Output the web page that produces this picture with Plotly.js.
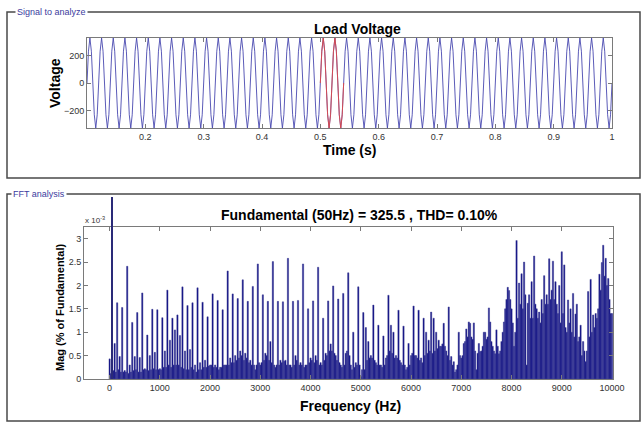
<!DOCTYPE html>
<html>
<head>
<meta charset="utf-8">
<script src="https://cdn.plot.ly/plotly-3.0.1.min.js"></script>
<style>html,body{margin:0;padding:0;background:#fff;}#chart{width:641px;height:423px;}</style>
</head>
<body>
<div id="chart"></div>
<script>
// ---------- data ----------
const signalTitle = "Load Voltage";
const fundamentalHz = 50;
const fundamentalAmp = 325.5;     // V peak
const thdPct = "0.10";
const tStart = 0.1, tEnd = 1.0;   // analysed signal window (s)
const fftWindow = [0.5, 0.54];    // red segment (2 cycles)
// one 50 Hz cycle of the load voltage, 8 samples (V)
const cycleShape = [0, 230, 325.5, 230, 0, -230, -325.5, -230];
const timeTicks = [0.2, 0.3, 0.4, 0.5, 0.6, 0.7, 0.8, 0.9, 1];
const voltTicks = [-200, 0, 200];

// FFT: bins every 25 Hz from 0 to 10000 Hz, magnitude in units of 1e-3 % of fundamental
const binStart = 0, binStep = 25;
const fundamentalPct = 100;   // fundamental bin (50 Hz) = 100 %
const harmonicMag = [
0.43,0.12,null,0.18, 0.76,0.15,1.63,0.20, 0.48,0.15,1.53,0.15, 0.18,0.15,2.41,0.12, 0.30,0.15,1.21,0.18,
0.48,0.20,1.42,0.15, 0.46,0.15,1.84,0.20, 0.22,0.20,0.94,0.18, 0.50,0.20,1.49,0.22, 0.57,0.20,1.48,0.20,
0.22,0.20,1.31,0.25, 0.60,0.25,1.90,0.30, 0.83,0.25,1.30,0.30, 1.05,0.30,1.37,0.30, 0.93,0.25,1.97,0.22,
0.60,0.20,1.57,0.20, 0.63,0.25,1.63,0.20, 0.30,0.15,1.95,0.20, 0.35,0.20,1.64,0.25, 0.40,0.25,1.33,0.28,
0.30,0.30,1.82,0.25, 0.30,0.25,1.68,0.20, 0.25,0.25,1.48,0.30, 0.30,0.30,2.31,0.30, 0.45,0.35,1.82,0.35,
0.50,0.40,1.72,0.45, 0.60,0.50,2.12,0.40, 0.55,0.45,1.66,0.35, 0.40,0.30,1.98,0.30, 0.20,0.30,2.46,0.35,
0.30,0.35,1.80,0.40, 0.55,0.50,1.66,0.40, 0.80,0.35,2.51,0.30, 0.25,0.30,1.66,0.30, 0.40,0.35,1.65,0.38,
0.40,0.30,2.58,0.30, 0.30,0.25,1.66,0.30, 0.50,0.40,1.68,0.30, 0.35,0.30,2.46,0.25, 0.30,0.30,1.50,0.35,
0.45,0.40,1.67,0.35, 0.50,0.40,2.39,0.30, 0.35,0.30,1.30,0.40, 0.55,0.50,1.67,0.60, 0.75,0.60,1.99,0.55,
0.50,0.40,1.71,0.35, 0.30,0.25,1.83,0.30, 0.55,0.60,2.27,0.50, 0.30,0.20,1.00,0.25, 0.35,0.30,1.97,0.30,
0.05,0.20,1.42,0.20, 1.10,0.40,0.80,0.45, 0.50,0.45,1.58,0.40, 0.35,0.30,1.15,0.30, 0.30,0.25,0.92,0.30,
0.45,0.50,1.79,0.60, 1.15,0.55,1.00,0.45, 0.50,0.45,1.47,0.40, 0.35,0.30,1.13,0.30, 0.20,0.25,0.76,0.30,
0.50,0.55,1.56,0.50, 0.50,0.45,1.47,0.40, 0.45,0.35,1.30,0.50, 1.00,0.55,0.83,0.60, 1.43,0.55,1.30,0.60,
1.00,0.65,0.83,0.70, 0.70,0.75,1.19,0.70, 0.60,0.50,1.54,0.40, 0.48,0.30,0.37,0.15, 0.20,0.30,1.00,0.50,
0.45,0.50,0.76,0.80, 1.07,0.90,1.22,1.19, 0.90,0.85,1.20,0.60, 0.20,0.55,0.76,0.59, 0.60,0.70,1.00,1.00,
0.85,0.90,1.52,1.22, 0.80,0.70,0.60,0.54, 1.05,0.70,0.54,0.60, 0.80,1.00,1.22,1.50, 1.70,1.96,1.89,1.70,
1.50,1.20,0.70,1.00, 2.96,1.30,2.05,1.60, 2.25,1.50,2.50,1.80, 0.30,1.62,1.80,1.30, 2.08,1.30,2.63,1.60,
1.50,1.30,1.43,1.20, 1.70,1.40,2.21,1.60, 1.80,1.60,2.57,1.70, 1.90,2.52,1.70,2.08, 1.60,1.40,2.00,1.20,
2.72,1.40,2.44,1.10, 1.00,1.69,1.20,1.50, 1.00,1.83,0.90,1.39, 1.60,0.80,0.90,1.15, 0.50,0.80,0.60,0.37,
0.60,1.87,0.90,2.13, 1.00,1.37,1.10,1.40, 1.30,1.50,2.24,1.90, 2.49,2.86,2.20,2.58, 2.00,2.15,1.70,1.40,
1.40
];
const freqTicks = [0,1000,2000,3000,4000,5000,6000,7000,8000,9000,10000];
const freqTickText = ["0","1000","2000","3000","4000","5000","6000","7000","8000","9000","10000"];
const magTicks = [0, 0.5, 1, 1.5, 2, 2.5, 3];
const magTickText = ["0", "0.5", "1", "1.5", "2", "2.5", "3"];

// ---------- build the time signal by repeating the read cycle ----------
const period = 1 / fundamentalHz;
const dt = period / cycleShape.length;
const nSamples = Math.round((tEnd - tStart) / dt);
const tAll = [], vAll = [];
for (let i = 0; i <= nSamples; i++) {
  tAll.push(+(tStart + i * dt).toFixed(6));
  vAll.push(cycleShape[i % cycleShape.length]);
}
const tRed = [], vRed = [];
tAll.forEach((t, i) => { if (t >= fftWindow[0] - 1e-9 && t <= fftWindow[1] + 1e-9) { tRed.push(t); vRed.push(vAll[i]); } });

// ---------- layout helpers (pixel -> paper) ----------
const W = 641, H = 423;
const px = x => x / W;
const py = y => 1 - y / H;

const font = "Liberation Sans, Arial, sans-serif";
const axCommon = {
  showline: true, linecolor: "#7a7a7a", linewidth: 1, mirror: "ticks",
  ticks: "inside", ticklen: 4, tickcolor: "#7a7a7a", tickwidth: 1,
  showgrid: false, zeroline: false,
  tickfont: { family: font, size: 9, color: "#333" }
};

const traces = [
  { type: "scatter", mode: "lines", x: tAll, y: vAll, xaxis: "x", yaxis: "y",
    line: { color: "#4848b0", width: 0.9 }, hoverinfo: "skip" },
  { type: "scatter", mode: "lines", x: tRed, y: vRed, xaxis: "x", yaxis: "y",
    line: { color: "#e04848", width: 0.9 }, hoverinfo: "skip" },
  { type: "bar", x0: binStart, dx: binStep, y: harmonicMag, xaxis: "x2", yaxis: "y2",
    marker: { color: "#000080", line: { width: 0.5, color: "#4a4a98" } }, hoverinfo: "skip" },
  { type: "bar", x: [fundamentalHz], y: [fundamentalPct], width: [binStep * 1.4], xaxis: "x3", yaxis: "y3",
    marker: { color: "#2a2a78", line: { width: 0 } }, hoverinfo: "skip" }
];

const fftRange = [-510, 10020];
const layout = {
  width: W, height: H,
  margin: { l: 0, r: 0, t: 0, b: 0 },
  paper_bgcolor: "#fff", plot_bgcolor: "rgba(0,0,0,0)",
  showlegend: false, bargap: 0,
  font: { family: font },
  xaxis: Object.assign({}, axCommon, { domain: [px(87), px(612)], anchor: "y", range: [tStart, tEnd], tickvals: timeTicks }),
  yaxis: Object.assign({}, axCommon, { domain: [py(128), py(38)], anchor: "x", range: [-fundamentalAmp, fundamentalAmp], tickvals: voltTicks }),
  xaxis2: Object.assign({}, axCommon, { domain: [px(84), px(613)], anchor: "y2", range: fftRange, tickvals: freqTicks, ticktext: freqTickText }),
  yaxis2: Object.assign({}, axCommon, { domain: [py(379), py(227)], anchor: "x2", range: [0, 3.25], tickvals: magTicks, ticktext: magTickText }),
  xaxis3: { domain: [px(84), px(613)], anchor: "y3", range: fftRange, visible: false },
  yaxis3: { domain: [py(379), py(197)], anchor: "x3", range: [0, fundamentalPct], visible: false },
  shapes: [
    { type: "rect", xref: "paper", yref: "paper", x0: px(7), x1: px(640), y0: py(178), y1: py(12),
      line: { color: "#4a4a4a", width: 1.5 }, layer: "below" },
    { type: "rect", xref: "paper", yref: "paper", x0: px(7), x1: px(640), y0: py(421), y1: py(194),
      line: { color: "#4a4a4a", width: 1.5 }, layer: "below" }
  ],
  annotations: [
    { text: "Signal to analyze", x: px(15), y: py(12), xref: "paper", yref: "paper", xanchor: "left", yanchor: "middle",
      showarrow: false, bgcolor: "#fff", borderpad: 1, font: { family: font, size: 9, color: "#3c3ca0" } },
    { text: "FFT analysis", x: px(11), y: py(194), xref: "paper", yref: "paper", xanchor: "left", yanchor: "middle",
      showarrow: false, bgcolor: "#fff", borderpad: 1, font: { family: font, size: 9, color: "#3c3ca0" } },
    { text: signalTitle, x: px(357), y: py(29), xref: "paper", yref: "paper", xanchor: "center", yanchor: "middle",
      showarrow: false, font: { family: font, size: 14, color: "#000", weight: "bold" } },
    { text: "Time (s)", x: px(349.5), y: py(150), xref: "paper", yref: "paper", xanchor: "center", yanchor: "middle",
      showarrow: false, font: { family: font, size: 14, color: "#000", weight: "bold" } },
    { text: "Voltage", x: px(55), y: py(83), xref: "paper", yref: "paper", xanchor: "center", yanchor: "middle",
      textangle: -90, showarrow: false, font: { family: font, size: 14, color: "#000", weight: "bold" } },
    { text: "Fundamental (" + fundamentalHz + "Hz) = " + fundamentalAmp + " , THD= " + thdPct + "%",
      x: px(359), y: py(215), xref: "paper", yref: "paper", xanchor: "center", yanchor: "middle",
      showarrow: false, font: { family: font, size: 14, color: "#000", weight: "bold" } },
    { text: "Frequency (Hz)", x: px(350), y: py(406), xref: "paper", yref: "paper", xanchor: "center", yanchor: "middle",
      showarrow: false, font: { family: font, size: 14, color: "#000", weight: "bold" } },
    { text: "Mag (% of Fundamental)", x: px(60), y: py(308), xref: "paper", yref: "paper", xanchor: "center", yanchor: "middle",
      textangle: -90, showarrow: false, font: { family: font, size: 11, color: "#000", weight: "bold" } },
    { text: "x 10<sup>-3</sup>", x: px(83), y: py(220), xref: "paper", yref: "paper", xanchor: "left", yanchor: "middle",
      showarrow: false, font: { family: font, size: 8, color: "#333" } }
  ]
};

Plotly.newPlot("chart", traces, layout, { staticPlot: true, displayModeBar: false });
</script>
</body>
</html>
